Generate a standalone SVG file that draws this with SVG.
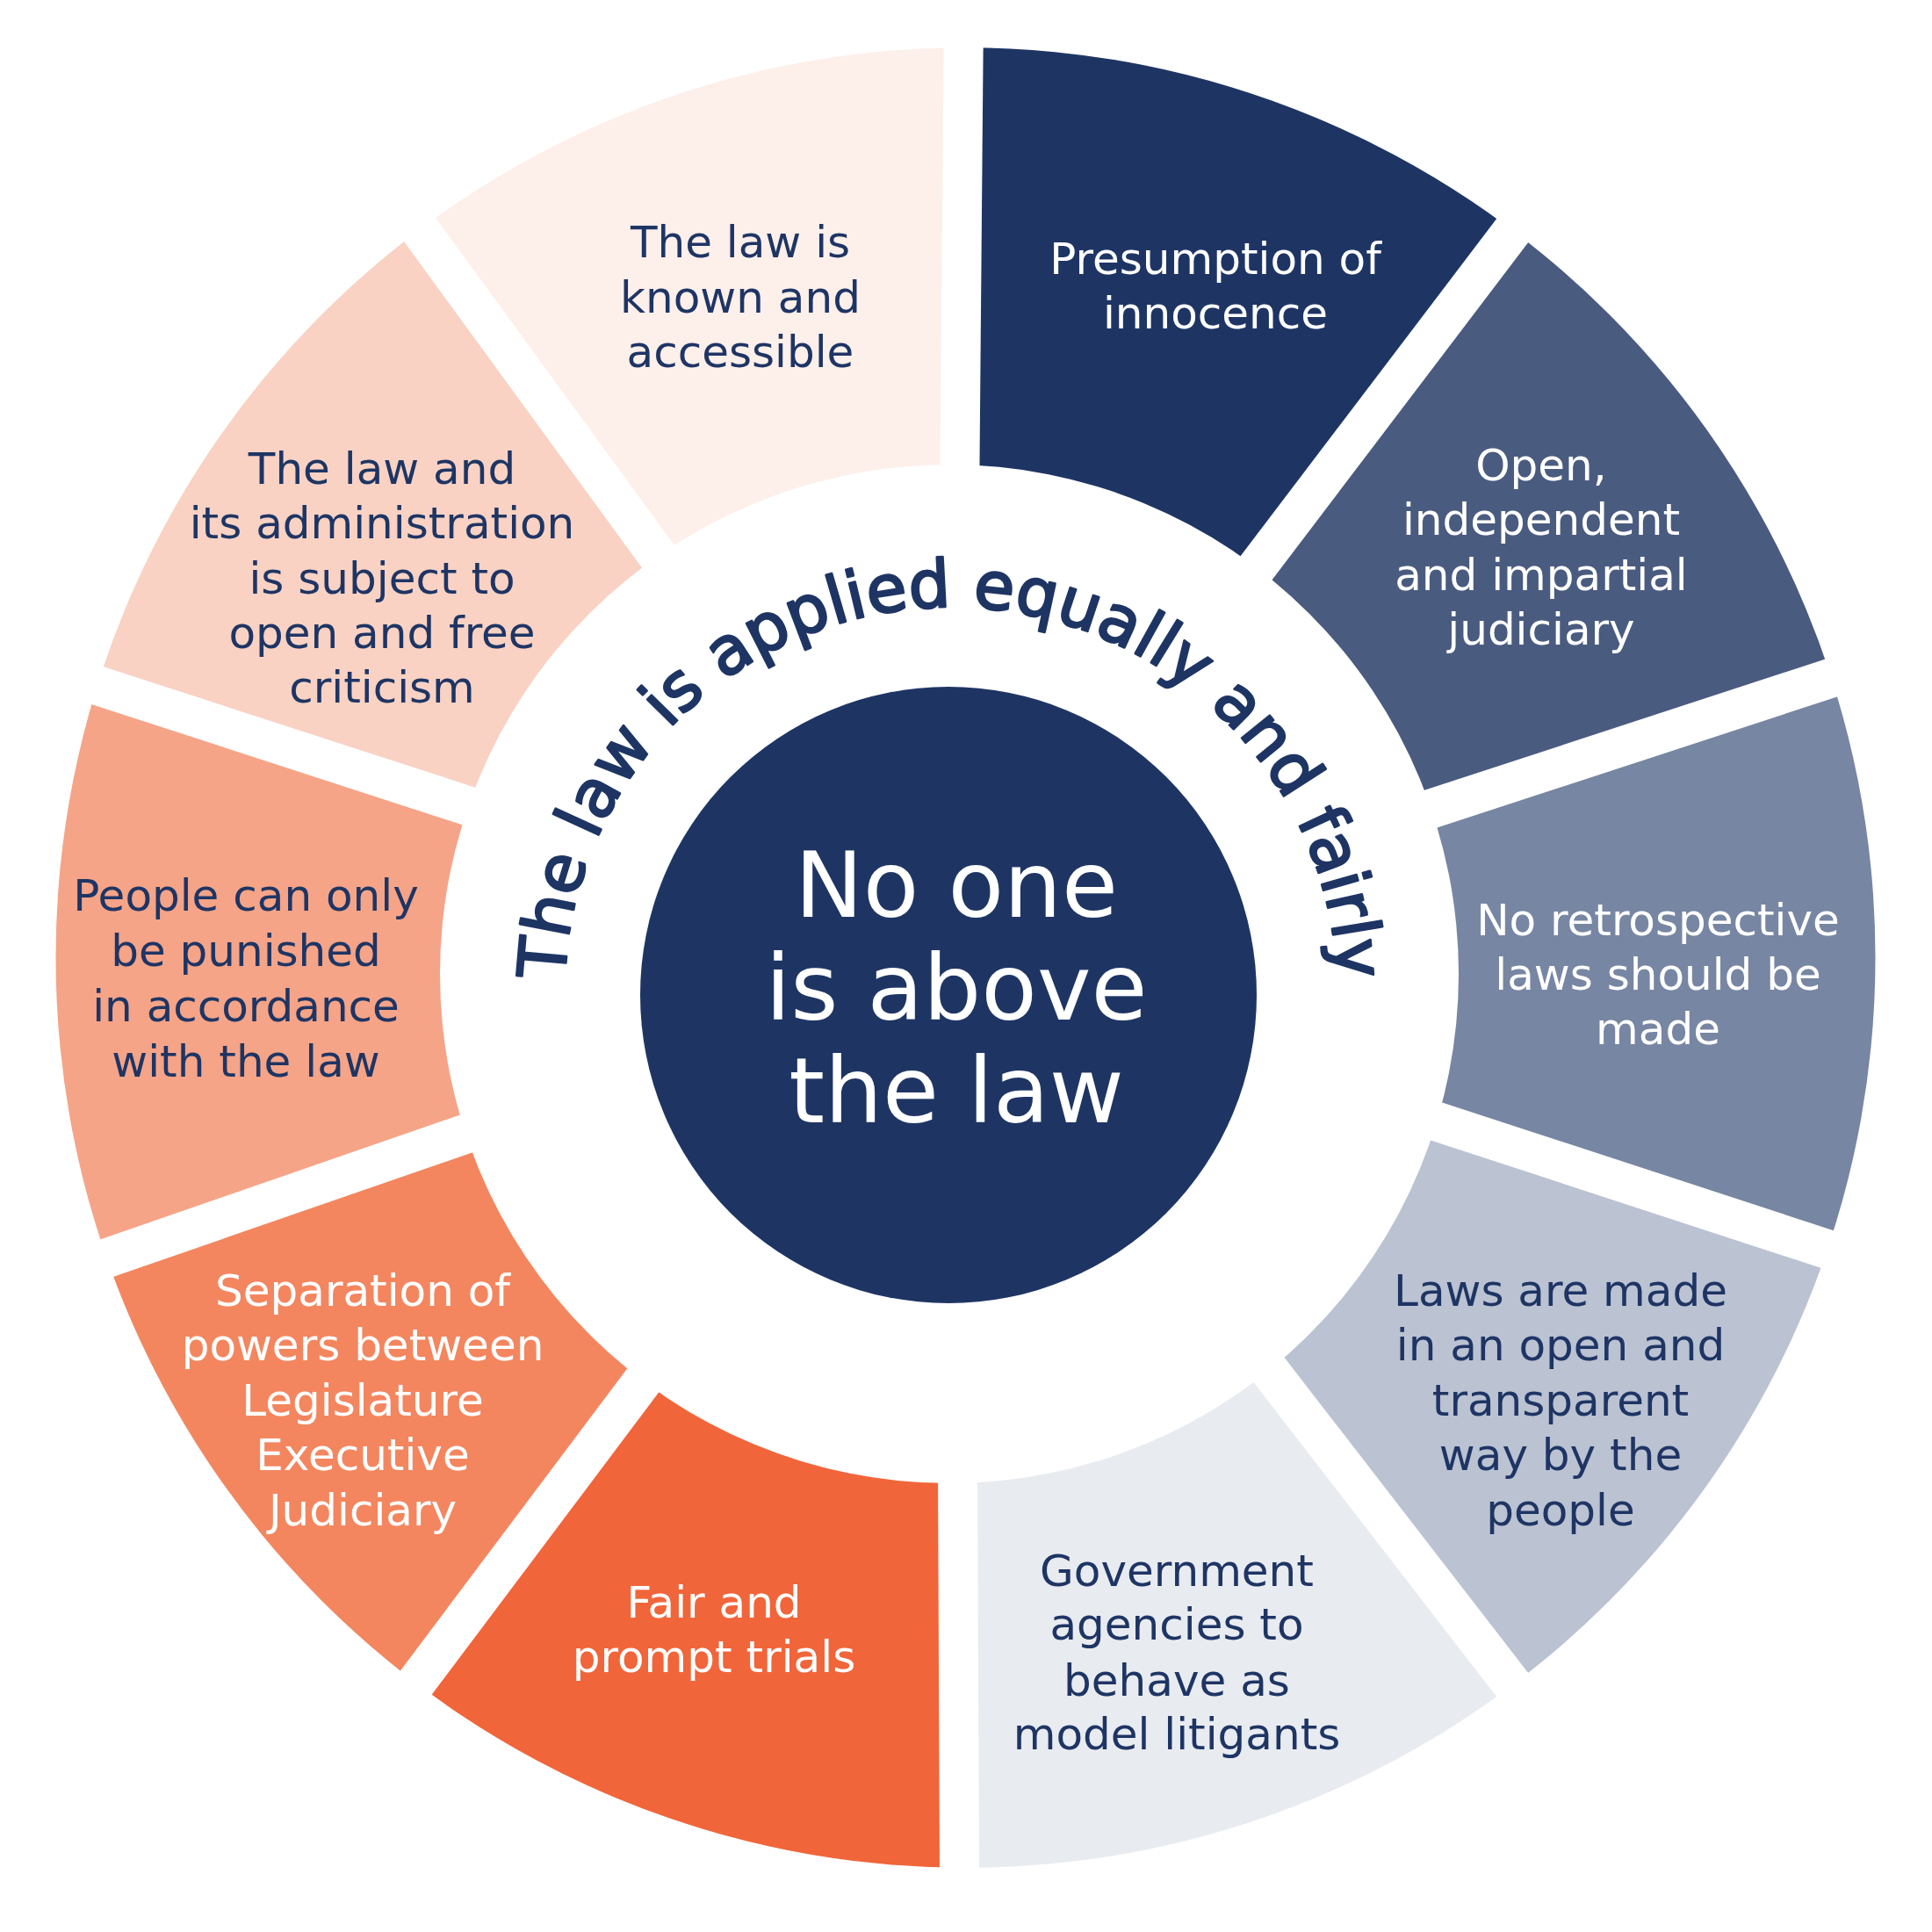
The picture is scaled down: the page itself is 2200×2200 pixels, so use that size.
<svg xmlns="http://www.w3.org/2000/svg" width="2200" height="2200" viewBox="0 0 2200 2200">
  <style>
    .seg { mask: url(#ringMask); }
    .t { font-family: "DejaVu Sans", "Liberation Sans", sans-serif; font-size: 50px; text-anchor: middle; }
    .w { fill: #ffffff; }
    .n { fill: #1e3564; }
    .center-t { font-family: "DejaVu Sans", "Liberation Sans", sans-serif; font-size: 104px; text-anchor: middle; fill: #ffffff; }
    .arc-t { font-family: "DejaVu Sans", "Liberation Sans", sans-serif; font-size: 75px; fill: #1e3564; stroke: #1e3564; stroke-width: 2.6px; stroke-linejoin: round; }
  </style>
  <defs>
    <mask id="ringMask" maskUnits="userSpaceOnUse" x="0" y="0" width="2200" height="2200">
      <path fill="#ffffff" fill-rule="evenodd" d="M 63.5 1090.5 A 1036 1036 0 1 0 2135.5 1090.5 A 1036 1036 0 1 0 63.5 1090.5 Z M 501 1109 A 580 580 0 1 0 1661 1109 A 580 580 0 1 0 501 1109 Z"/>
      <g stroke="#000000" stroke-width="45" stroke-linecap="butt">
        <line x1="1088" y1="1098" x2="1102" y2="-502"/>
        <line x1="1088" y1="1098" x2="2055.4" y2="-176.4"/>
        <line x1="1088" y1="1098" x2="2608.8" y2="600.9"/>
        <line x1="1088" y1="1098" x2="2608.8" y2="1595.1"/>
        <line x1="1088" y1="1098" x2="2066.4" y2="2363.9"/>
        <line x1="1088" y1="1098" x2="1095" y2="2698"/>
        <line x1="1088" y1="1098" x2="127.4" y2="2377.5"/>
        <line x1="1088" y1="1098" x2="-423.8" y2="1621.5"/>
        <line x1="1088" y1="1098" x2="-433.8" y2="603.6"/>
        <line x1="1088" y1="1098" x2="145.3" y2="-194.8"/>
      </g>
    </mask>
    <path id="arcPath" d="M 643 1131 A 440 440 0 0 1 1523 1131"/>
  </defs>

  <g id="presumption">
    <polygon class="seg" fill="#1e3564" points="1088,1098 1102,-502 2055.4,-176.4"/>
    <text class="t w"><tspan x="1384" y="312">Presumption of</tspan><tspan x="1384" y="374">innocence</tspan></text>
  </g>
  <g id="judiciary">
    <polygon class="seg" fill="#4a5b80" points="1088,1098 2055.4,-176.4 2608.8,600.9"/>
    <text class="t w"><tspan x="1755" y="547">Open,</tspan><tspan x="1755" y="609">independent</tspan><tspan x="1755" y="672">and impartial</tspan><tspan x="1755" y="734">judiciary</tspan></text>
  </g>
  <g id="retrospective">
    <polygon class="seg" fill="#7786a2" points="1088,1098 2608.8,600.9 2608.8,1595.1"/>
    <text class="t w"><tspan x="1888" y="1065">No retrospective</tspan><tspan x="1888" y="1127">laws should be</tspan><tspan x="1888" y="1189">made</tspan></text>
  </g>
  <g id="laws-made">
    <polygon class="seg" fill="#bbc2d2" points="1088,1098 2608.8,1595.1 2066.4,2363.9"/>
    <text class="t n"><tspan x="1777" y="1487">Laws are made</tspan><tspan x="1777" y="1549">in an open and</tspan><tspan x="1777" y="1612">transparent</tspan><tspan x="1777" y="1674">way by the</tspan><tspan x="1777" y="1737">people</tspan></text>
  </g>
  <g id="government">
    <polygon class="seg" fill="#e8ebf0" points="1088,1098 2066.4,2363.9 1095,2698"/>
    <text class="t n"><tspan x="1340" y="1806">Government</tspan><tspan x="1340" y="1867">agencies to</tspan><tspan x="1340" y="1931">behave as</tspan><tspan x="1340" y="1992">model litigants</tspan></text>
  </g>
  <g id="fair-trials">
    <polygon class="seg" fill="#f1653a" points="1088,1098 1095,2698 127.4,2377.5"/>
    <text class="t w"><tspan x="813" y="1842">Fair and</tspan><tspan x="813" y="1904">prompt trials</tspan></text>
  </g>
  <g id="separation">
    <polygon class="seg" fill="#f3865f" points="1088,1098 127.4,2377.5 -423.8,1621.5"/>
    <text class="t w"><tspan x="413" y="1487">Separation of</tspan><tspan x="413" y="1549">powers between</tspan><tspan x="413" y="1612">Legislature</tspan><tspan x="413" y="1674">Executive</tspan><tspan x="413" y="1737">Judiciary</tspan></text>
  </g>
  <g id="punished">
    <polygon class="seg" fill="#f5a488" points="1088,1098 -423.8,1621.5 -433.8,603.6"/>
    <text class="t n"><tspan x="280" y="1037">People can only</tspan><tspan x="280" y="1100">be punished</tspan><tspan x="280" y="1163">in accordance</tspan><tspan x="280" y="1226">with the law</tspan></text>
  </g>
  <g id="criticism">
    <polygon class="seg" fill="#f9d2c4" points="1088,1098 -433.8,603.6 145.3,-194.8"/>
    <text class="t n"><tspan x="435" y="551">The law and</tspan><tspan x="435" y="613">its administration</tspan><tspan x="435" y="676">is subject to</tspan><tspan x="435" y="738">open and free</tspan><tspan x="435" y="800">criticism</tspan></text>
  </g>
  <g id="known">
    <polygon class="seg" fill="#fdefea" points="1088,1098 145.3,-194.8 1102,-502"/>
    <text class="t n"><tspan x="843" y="293">The law is</tspan><tspan x="843" y="356">known and</tspan><tspan x="843" y="418">accessible</tspan></text>
  </g>

  <g id="applied-equally">
    <text class="arc-t"><textPath href="#arcPath" startOffset="50%" text-anchor="middle">The law is applied equally and fairly</textPath></text>
  </g>

  <g id="center">
    <circle cx="1080" cy="1133" r="351" fill="#1e3564"/>
    <text class="center-t"><tspan x="1089" y="1044">No one</tspan><tspan x="1089" y="1161">is above</tspan><tspan x="1089" y="1278">the law</tspan></text>
  </g>
</svg>
